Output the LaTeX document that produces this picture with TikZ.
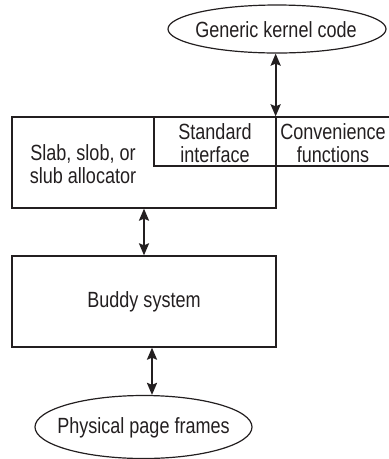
\documentclass[tikz,border=0pt]{standalone}
\usepackage{fontspec}
\setmainfont[FakeStretch=0.82]{Liberation Sans}
\usetikzlibrary{arrows.meta,shapes.geometric}
\definecolor{ink}{HTML}{231F20}
\begin{document}
\begin{tikzpicture}[x=1pt,y=-1pt,
  every node/.style={text=ink, font=\fontsize{22}{23}\selectfont, align=center, inner sep=0pt},
  box/.style={draw=ink, line width=1.3pt, rectangle},
  oval/.style={draw=ink, line width=1.2pt, ellipse},
  arr/.style={draw=ink, line width=2.2pt, {Stealth[length=12pt,width=10pt,inset=2pt]}-{Stealth[length=12pt,width=10pt,inset=2pt]}}]
\useasboundingbox (0,0) rectangle (389,459);
\clip (0,0) rectangle (389,459);
% shapes
\node[oval, minimum width=218pt, minimum height=48pt] (gk) at (277,29) {};
\node at (276,30) {Generic kernel code};
\node[box, minimum width=264pt, minimum height=91pt] (slab) at (144,162.5) {};
\node at (83,164) {Slab, slob, or\\slub allocator};
\node[box, minimum width=122pt, minimum height=49pt] (std) at (215,141.5) {};
\node at (215,143) {Standard\\interface};
\node[box, minimum width=124pt, minimum height=49pt] (conv) at (338,141.5) {};
\node at (333,143) {Convenience\\functions};
\node[box, minimum width=264pt, minimum height=91pt] (buddy) at (144,301.5) {};
\node at (144,302) {Buddy system};
\node[oval, minimum width=217pt, minimum height=63pt] (phys) at (143.5,427) {};
\node at (143.5,428) {Physical page frames};
% connectors
\draw[arr] ([xshift=-1pt]std.north east |- gk.south) -- ([xshift=-1pt]std.north east);
\draw[arr] (slab.south) -- (buddy.north);
\draw[arr] ([xshift=8pt]buddy.south) -- ([xshift=8pt]buddy.south |- phys.north);
\end{tikzpicture}
\end{document}
